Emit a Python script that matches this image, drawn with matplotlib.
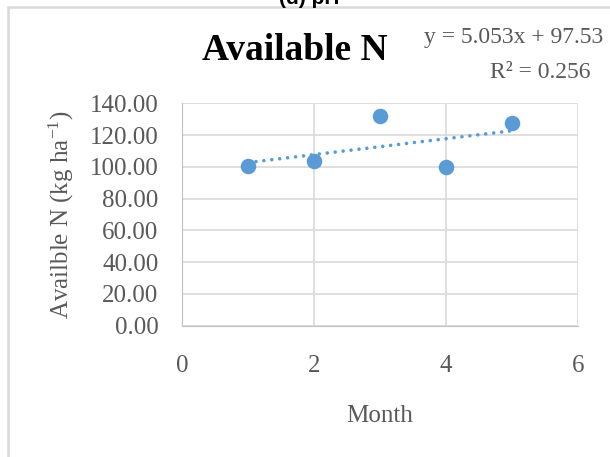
import matplotlib.pyplot as plt
import numpy as np
from matplotlib.patches import Rectangle

months = [1, 2, 3, 4, 5]
avail_n = [100.8, 103.5, 131.8, 99.6, 127.8]
x_ticks = [0, 2, 4, 6]
y_ticks = [0, 20, 40, 60, 80, 100, 120, 140]

blue = "#5B9BD5"
grey = "#595959"
plt.rcParams['font.family'] = ['Liberation Serif', 'DejaVu Serif']
plt.rcParams['mathtext.fontset'] = 'custom'
plt.rcParams['mathtext.rm'] = 'Liberation Serif'
plt.rcParams['mathtext.it'] = 'Liberation Serif:italic'

fig = plt.figure(figsize=(6.1, 4.57), dpi=100)
ax = fig.add_axes([0.2984, 0.2873, 0.6491, 0.4867])

# chart border (cut off on right/bottom)
fig.patches.append(Rectangle((8 / 610, -0.2), 1.2, 1 - 7 / 457 + 0.2, transform=fig.transFigure,
                             fill=False, edgecolor="#D9D9D9", linewidth=1.8, clip_on=False))
fig.text(309 / 610, 1 - 4 / 457, "(d) pH", ha="center", va="baseline", fontsize=15,
         fontweight="bold", family="Liberation Sans")

ax.scatter(months, avail_n, s=125, color=blue, zorder=3, linewidths=0)
coef = np.polyfit(months, avail_n, 1)
xs = np.array([months[0], months[-1]])
ax.plot(xs, np.polyval(coef, xs), linestyle=(0, (0.01, 2.2)), color=blue, linewidth=2.6,
        dash_capstyle="round", zorder=2)

ax.set_xlim(0, 6)
ax.set_ylim(0, 140)
ax.set_xticks(x_ticks)
ax.set_yticks(y_ticks)
ax.set_yticklabels(["%.2f" % v for v in y_ticks])
ax.grid(True, color="#D9D9D9", linewidth=1.2)
ax.set_axisbelow(True)
for s in ax.spines.values():
    s.set_visible(False)
ax.spines['left'].set_visible(True)
ax.spines['bottom'].set_visible(True)
ax.spines['left'].set_color("#BFBFBF")
ax.spines['bottom'].set_color("#BFBFBF")
ax.tick_params(length=0, labelsize=18, labelcolor=grey)
ax.tick_params(axis='x', pad=21)
ax.tick_params(axis='y', pad=17)

ax.set_xlabel("Month", fontsize=18, color=grey, labelpad=20)
ax.set_ylabel("Availble N (kg ha$^{\\mathrm{-1}}$)", fontsize=18, color=grey, labelpad=10)

fig.text(295 / 610, 1 - 50 / 457, "Available N", ha="center", va="center", fontsize=27,
         fontweight="bold")
fig.text(603 / 610, 1 - 38 / 457, "y = 5.053x + 97.53", ha="right", va="center",
         fontsize=17, color=grey)
fig.text(590 / 610, 1 - 72 / 457, "R² = 0.256", ha="right", va="center",
         fontsize=17, color=grey)

plt.savefig("out.png", dpi=100)
